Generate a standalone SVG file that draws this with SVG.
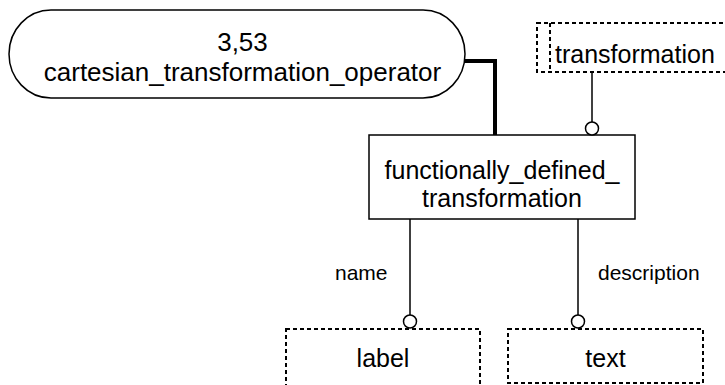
<svg xmlns="http://www.w3.org/2000/svg" width="725" height="385" viewBox="0 0 725 385">
  <style>
    .box { fill: #ffffff; stroke: #000000; stroke-width: 1.5; }
    .ref { fill: none; stroke: #000000; stroke-width: 2; stroke-dasharray: 4 3; }
    .line { fill: none; stroke: #000000; stroke-width: 1.5; }
    .thick { fill: none; stroke: #000000; stroke-width: 4; }
    .circ { fill: #ffffff; stroke: #000000; stroke-width: 1.5; }
    .t { font-family: "Liberation Sans", Arial, sans-serif; font-size: 25px; fill: #000000; text-anchor: middle; }
    .lbl { font-family: "Liberation Sans", Arial, sans-serif; font-size: 21px; fill: #000000; }
  </style>
  <rect width="725" height="385" fill="#ffffff"/>

  <g id="connectors">
    <polyline class="thick" points="463,61 495,61 495,135"/>
    <line class="line" x1="592" y1="72" x2="592" y2="122"/>
    <line class="line" x1="410" y1="219" x2="410" y2="315"/>
    <line class="line" x1="578" y1="219" x2="578" y2="315"/>
    <text class="lbl" x="335" y="280">name</text>
    <text class="lbl" x="598" y="280">description</text>
  </g>

  <g id="cartesian_transformation_operator">
    <rect class="box" x="9" y="10" width="456" height="88" rx="42" ry="44"/>
    <text class="t" x="242.5" y="51" style="font-size:26px">3,53</text>
    <text class="t" x="242.5" y="81" style="font-size:26px">cartesian_transformation_operator</text>
  </g>

  <g id="transformation">
    <rect class="ref" x="537" y="23" width="200" height="49"/>
    <line class="ref" x1="550" y1="23" x2="550" y2="72"/>
    <text class="t" x="555" y="63" style="text-anchor:start">transformation</text>
  </g>

  <g id="functionally_defined_transformation">
    <rect class="box" x="369" y="135" width="266" height="84"/>
    <text class="t" x="502" y="179">functionally_defined_</text>
    <text class="t" x="502" y="207">transformation</text>
  </g>

  <g id="label">
    <rect class="ref" x="286" y="329" width="194" height="70"/>
    <text class="t" x="383" y="367">label</text>
  </g>

  <g id="text">
    <rect class="ref" x="508" y="329" width="195" height="54"/>
    <text class="t" x="605.5" y="367">text</text>
  </g>

  <g id="markers">
    <circle class="circ" cx="592" cy="128.5" r="6.5"/>
    <circle class="circ" cx="410" cy="321.5" r="6.5"/>
    <circle class="circ" cx="578" cy="321.5" r="6.5"/>
  </g>
</svg>
